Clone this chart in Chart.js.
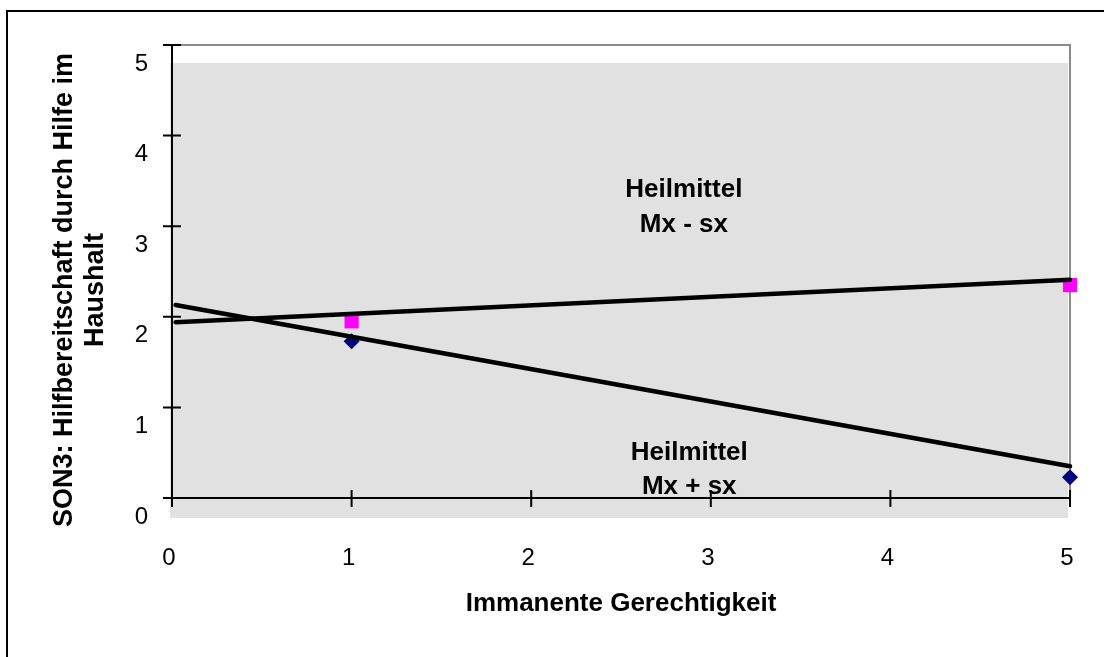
<!DOCTYPE html>
<html>
<head>
<meta charset="utf-8">
<script src="https://cdn.jsdelivr.net/npm/chart.js@4.4.0/dist/chart.umd.min.js"></script>
<style>
  body{margin:0;background:#fff;}
  #wrap{width:1104px;height:657px;}
</style>
</head>
<body>
<div id="wrap"><canvas id="chart" width="1104" height="657"></canvas></div>
<script>
// data
const xValues = [1, 5];
const minusSx = [1.95, 2.35];   // Heilmittel Mx - sx (magenta squares)
const plusSx = [1.73, 0.23];    // Heilmittel Mx + sx (blue diamonds)
const trendX = [0.02, 5];
const trendMinus = [1.94, 2.41];
const trendPlus = [2.13, 0.35];
const xTicks = [0, 1, 2, 3, 4, 5];
const yTicks = [0, 1, 2, 3, 4, 5];

const xTitle = 'Immanente Gerechtigkeit';
const yTitle = ['SON3: Hilfbereitschaft durch Hilfe im', 'Haushalt'];
const notes = [
  {x: 2.85, y: 3.40, text: 'Heilmittel'},
  {x: 2.85, y: 3.01, text: 'Mx - sx'},
  {x: 2.88, y: 0.50, text: 'Heilmittel'},
  {x: 2.88, y: 0.12, text: 'Mx + sx'}
];

const pts = (xs, ys) => xs.map((x, i) => ({x: x, y: ys[i]}));
const FONT = 'Arial, "Liberation Sans", sans-serif';

const decor = {
  id: 'decor',
  beforeDraw(chart){
    const c = chart.ctx, a = chart.chartArea;
    c.save();
    // outer frame
    c.strokeStyle = '#000'; c.lineWidth = 2;
    c.strokeRect(7, 11, 1110, 660);
    // gray plot fill (shifted like in the original)
    c.fillStyle = '#e1e1e1';
    c.fillRect(a.left - 2, a.top + 18, a.right - a.left, a.bottom - a.top + 2);
    c.restore();
  },
  beforeDatasetsDraw(chart){
    const c = chart.ctx, a = chart.chartArea;
    const xs = chart.scales.x, ys = chart.scales.y;
    c.save();
    // gray top/right border
    c.strokeStyle = '#8a8a8a'; c.lineWidth = 2;
    c.beginPath();
    c.moveTo(a.left, a.top); c.lineTo(a.right, a.top); c.lineTo(a.right, a.bottom);
    c.stroke();
    // black axes with crossing ticks
    c.strokeStyle = '#000'; c.lineWidth = 2;
    c.beginPath();
    c.moveTo(a.left, a.top); c.lineTo(a.left, a.bottom);
    c.moveTo(a.left, a.bottom); c.lineTo(a.right, a.bottom);
    yTicks.forEach(v => { const y = ys.getPixelForValue(v); c.moveTo(a.left - 9, y); c.lineTo(a.left + 9, y); });
    xTicks.forEach(v => { const x = xs.getPixelForValue(v); c.moveTo(x, a.bottom - 8); c.lineTo(x, a.bottom + 9); });
    c.stroke();
    // notes
    c.fillStyle = '#000';
    c.font = 'bold 26px ' + FONT;
    c.textAlign = 'center'; c.textBaseline = 'middle';
    notes.forEach(n => c.fillText(n.text, xs.getPixelForValue(n.x), ys.getPixelForValue(n.y)));
    // y axis title
    c.translate(65, 290);
    c.rotate(-Math.PI / 2);
    c.font = 'bold 27px ' + FONT;
    yTitle.forEach((t, i) => c.fillText(t, 0, i * 31));
    c.restore();
  }
};

new Chart(document.getElementById('chart').getContext('2d'), {
  type: 'scatter',
  data: {
    datasets: [
      {label: 'Trend Mx - sx', type: 'line', data: pts(trendX, trendMinus), borderColor: '#000', borderWidth: 4.5,
        borderCapStyle: 'round', pointRadius: 0, fill: false, clip: false, order: 0},
      {label: 'Trend Mx + sx', type: 'line', data: pts(trendX, trendPlus), borderColor: '#000', borderWidth: 4.5,
        borderCapStyle: 'round', pointRadius: 0, fill: false, clip: false, order: 0},
      {label: 'Heilmittel Mx - sx', data: pts(xValues, minusSx), pointStyle: 'rect', pointRadius: 10,
        backgroundColor: '#ff00ff', borderColor: '#ff00ff', borderWidth: 0, clip: false, order: 1},
      {label: 'Heilmittel Mx + sx', data: pts(xValues, plusSx), pointStyle: 'rectRot', pointRadius: 8,
        backgroundColor: '#000080', borderColor: '#000080', borderWidth: 0, clip: false, order: 1}
    ]
  },
  options: {
    responsive: false,
    animation: false,
    layout: {padding: {left: 0, top: 45, right: 34, bottom: 0}},
    plugins: {legend: {display: false}, tooltip: {enabled: false}},
    scales: {
      x: {
        type: 'linear', min: 0, max: 5,
        afterFit: s => { s.height = 159; s.paddingLeft = 0; s.paddingRight = 0; },
        afterBuildTicks: s => { s.ticks = xTicks.map(v => ({value: v})); },
        grid: {display: false, drawTicks: false},
        border: {display: false},
        ticks: {color: '#000', font: {family: FONT, size: 24}, padding: 46, labelOffset: -3},
        title: {display: true, text: xTitle, color: '#000', font: {family: FONT, size: 26, weight: 'bold'},
          padding: {top: 0, bottom: 38}}
      },
      y: {
        min: 0, max: 5,
        afterFit: s => { s.width = 172; s.paddingTop = 0; s.paddingBottom = 0; },
        afterBuildTicks: s => { s.ticks = yTicks.map(v => ({value: v})); },
        grid: {display: false, drawTicks: false},
        border: {display: false},
        ticks: {color: '#000', font: {family: FONT, size: 24}, padding: 24, labelOffset: 19}
      }
    }
  },
  plugins: [decor]
});
</script>
</body>
</html>
